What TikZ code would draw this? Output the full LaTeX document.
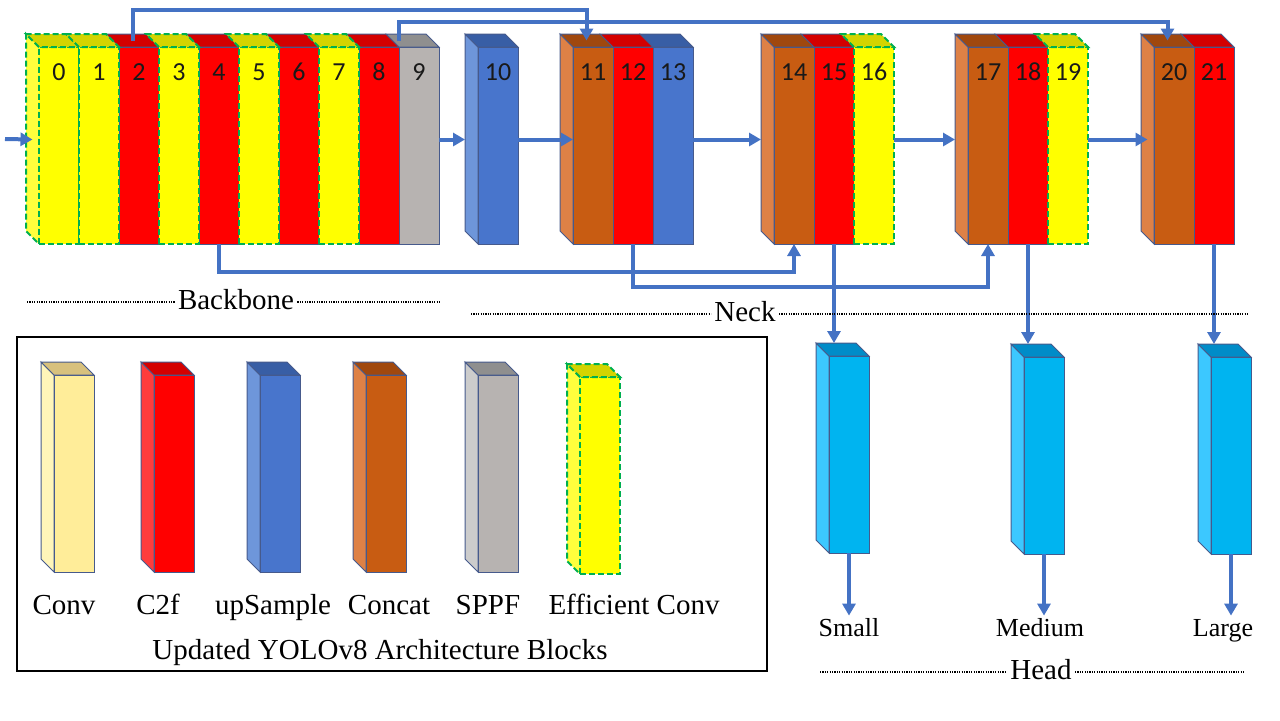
\documentclass[tikz,border=0pt]{standalone}
\usepackage{fontspec}
\setmainfont{Liberation Serif}
\newfontfamily\numfont{Carlito}
\usetikzlibrary{arrows.meta}

\definecolor{edgeC}{RGB}{70,90,140}
\definecolor{flowC}{RGB}{68,114,196}
\definecolor{numC}{RGB}{25,25,25}
\definecolor{effL}{RGB}{0,176,80}
\definecolor{convF}{RGB}{255,237,153}
\definecolor{convS}{RGB}{255,245,185}
\definecolor{convT}{RGB}{216,193,125}
\definecolor{ctwoF}{RGB}{255,0,0}
\definecolor{ctwoS}{RGB}{255,60,60}
\definecolor{ctwoT}{RGB}{212,0,0}
\definecolor{upsmF}{RGB}{72,117,204}
\definecolor{upsmS}{RGB}{110,150,218}
\definecolor{upsmT}{RGB}{56,94,165}
\definecolor{catF}{RGB}{200,92,18}
\definecolor{catS}{RGB}{222,129,70}
\definecolor{catT}{RGB}{160,72,14}
\definecolor{sppfF}{RGB}{183,179,177}
\definecolor{sppfS}{RGB}{204,204,204}
\definecolor{sppfT}{RGB}{143,143,143}
\definecolor{effF}{RGB}{255,255,0}
\definecolor{effS}{RGB}{255,255,60}
\definecolor{effT}{RGB}{212,212,0}
\definecolor{headblkF}{RGB}{0,180,240}
\definecolor{headblkS}{RGB}{60,200,255}
\definecolor{headblkT}{RGB}{0,140,200}

% front face + top face (+ number), kind / name / left / top / number
\newcommand{\slab}[5]{%
  \node[slabbox,fill=#1F,#1] (#2) at (#3+20,#4+98.5) {};
  \filldraw[fill=#1T,#1] (#2.north west) -- ++(-13,-13) -- ++(40,0) -- (#2.north east) -- cycle;
  \if\relax\detokenize{#5}\relax\else\node[num] at ([yshift=-12.5pt]#2.north) {#5};\fi}
% left side face, kind / left / top
\newcommand{\sideface}[3]{%
  \filldraw[fill=#1S,#1] (#2,#3) -- ++(-13,-13) -- ++(0,197) -- ++(13,13) -- cycle;}

\begin{document}
\begin{tikzpicture}[x=0.5pt,y=-0.5pt,
  slabbox/.style={rectangle,minimum width=20pt,minimum height=98.5pt,inner sep=0pt,outer sep=0pt},
  blk/.style={draw=edgeC,line width=0.5pt},
  conv/.style={blk},ctwo/.style={blk},upsm/.style={blk},cat/.style={blk},sppf/.style={blk},headblk/.style={blk},
  eff/.style={draw=effL,line width=1pt,dash pattern=on 3pt off 1.5pt},
  num/.style={font=\numfont\fontsize{13}{13}\selectfont,text=numC,inner sep=0pt},
  sect/.style={font=\fontsize{14.5}{16}\selectfont,text height=10pt,text depth=3pt,inner sep=1.5pt},
  outlbl/.style={font=\fontsize{13}{15}\selectfont,text height=9pt,text depth=3pt,inner sep=1pt},
  flow/.style={draw=flowC,line width=2pt,-{Triangle[length=6pt,width=6.5pt]}},
  dots/.style={line width=0.6pt,dash pattern=on 0.6pt off 0.6pt},
  sideback/.style={shift={(-6.5pt,3pt)}},
  sidemid/.style={shift={(-3.25pt,3pt)}},
  topc/.style={shift={(-3.25pt,3.25pt)}}]
\useasboundingbox (0,0) rectangle (1280,720);

% backbone 0-9
\sideface{eff}{39}{47}
\slab{ctwo}{b2}{119}{47}{2}
\slab{ctwo}{b4}{199}{47}{4}
\slab{ctwo}{b6}{279}{47}{6}
\slab{ctwo}{b8}{359}{47}{8}
\slab{sppf}{b9}{399}{47}{9}
\slab{eff}{b0}{39}{47}{0}
\slab{eff}{b1}{79}{47}{1}
\slab{eff}{b3}{159}{47}{3}
\slab{eff}{b5}{239}{47}{5}
\slab{eff}{b7}{319}{47}{7}

% neck
\sideface{upsm}{478}{47}
\slab{upsm}{b10}{478}{47}{10}
\sideface{cat}{573}{47}
\slab{cat}{b11}{573}{47}{11}
\slab{ctwo}{b12}{613}{47}{12}
\slab{upsm}{b13}{653}{47}{13}
\sideface{cat}{774}{47}
\slab{cat}{b14}{774}{47}{14}
\slab{ctwo}{b15}{814}{47}{15}
\slab{eff}{b16}{854}{47}{16}
\sideface{cat}{968}{47}
\slab{cat}{b17}{968}{47}{17}
\slab{ctwo}{b18}{1008}{47}{18}
\slab{eff}{b19}{1048}{47}{19}
\sideface{cat}{1154}{47}
\slab{cat}{b20}{1154}{47}{20}
\slab{ctwo}{b21}{1194}{47}{21}

% head
\sideface{headblk}{829}{356}
\slab{headblk}{hs}{829}{356}{}
\sideface{headblk}{1024}{357}
\slab{headblk}{hm}{1024}{357}{}
\sideface{headblk}{1211}{357}
\slab{headblk}{hl}{1211}{357}{}

\node[outlbl] (osm) at (849,630) {Small};
\node[outlbl] (omd) at (1040,630) {Medium};
\node[outlbl] (olg) at (1223,630) {Large};

% connectors
\coordinate (src) at (5,139);
\draw[flow] (src) -- ([sidemid]b0.west);
\draw[flow] ([yshift=3pt]b9.east) -- ([sideback]b10.west);
\draw[flow] ([yshift=3pt]b10.east) -- ([yshift=3pt]b11.west);
\draw[flow] ([yshift=3pt]b13.east) -- ([sideback]b14.west);
\draw[flow] ([yshift=3pt]b16.east) -- ([sideback]b17.west);
\draw[flow] ([yshift=3pt]b19.east) -- ([sidemid]b20.west);
\draw[flow] ([topc]b2.north) -- ++(0,-30.5) -| ([topc]b11.north);
\draw[flow] ([shift={(-10pt,3.25pt)}]b9.north) -- ++(0,-18.5) -| ([topc]b20.north);
\draw[flow] (b4.south) -- ++(0,28) -| (b14.south);
\draw[flow] (b12.south) -- ++(0,43) -| (b17.south);
\coordinate (hsin) at ([yshift=6.5pt]hs.north);
\coordinate (hmin) at ([yshift=6.5pt]hm.north);
\coordinate (hlin) at ([yshift=6.5pt]hl.north);
\draw[flow] (b15.south) -- (b15.south |- hsin);
\draw[flow] (b18.south) -- (b18.south |- hmin);
\draw[flow] (b21.south) -- (b21.south |- hlin);
\draw[flow] (hs.south) -- (hs.south |- osm.north);
\draw[flow] (hm.south) -- (hm.south |- omd.north);
\draw[flow] (hl.south) -- (hl.south |- olg.north);

% section labels
\node[sect] (bb) at (236,302) {Backbone};
\coordinate (bbl) at (27,302);
\coordinate (bbr) at (439,302);
\draw[dots] (bbl) -- (bbl -| bb.west);
\draw[dots] (bb.east |- bbr) -- (bbr);
\node[sect] (nk) at (745,314) {Neck};
\coordinate (nkl) at (471,314);
\coordinate (nkr) at (1248,314);
\draw[dots] (nkl) -- (nkl -| nk.west);
\draw[dots] (nk.east |- nkr) -- (nkr);
\node[sect] (hd) at (1041,672) {Head};
\coordinate (hdl) at (820,672);
\coordinate (hdr) at (1245,672);
\draw[dots] (hdl) -- (hdl -| hd.west);
\draw[dots] (hd.east |- hdr) -- (hdr);

% legend
\draw[line width=1pt] (17,337) rectangle (767,671);
\sideface{conv}{54}{375}
\slab{conv}{kconv}{54}{375}{}
\sideface{ctwo}{154}{375}
\slab{ctwo}{kctwo}{154}{375}{}
\sideface{upsm}{260}{375}
\slab{upsm}{kupsm}{260}{375}{}
\sideface{cat}{366}{375}
\slab{cat}{kcat}{366}{375}{}
\sideface{sppf}{478}{375}
\slab{sppf}{ksppf}{478}{375}{}
\sideface{eff}{580}{377}
\slab{eff}{keff}{580}{377}{}
\node[sect] (lconv) at (64,607) {Conv};
\node[sect] (lctwo) at (158,607) {C2f};
\node[sect] (lupsm) at (273,607) {upSample};
\node[sect] (lcat) at (389,607) {Concat};
\node[sect] (lsppf) at (488,607) {SPPF};
\node[sect] (leff) at (634,607) {Efficient Conv};
\node[sect] (ltitle) at (380,652) {Updated YOLOv8 Architecture Blocks};
\end{tikzpicture}
\end{document}
